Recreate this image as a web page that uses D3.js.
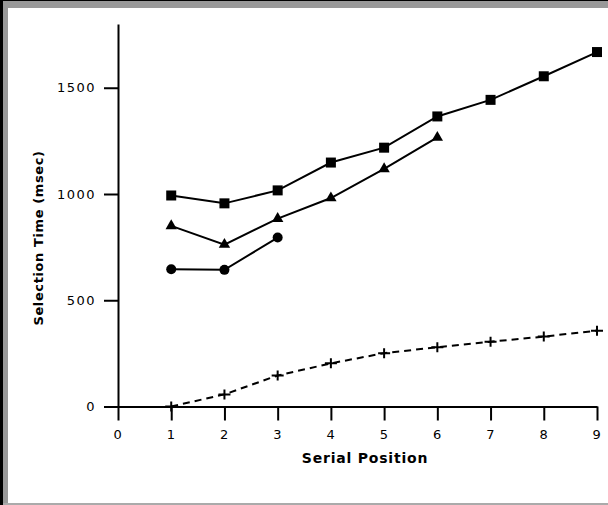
<!DOCTYPE html>
<html><head><meta charset="utf-8">
<script src="https://cdn.jsdelivr.net/npm/d3@7"></script>
<style>
html,body{margin:0;padding:0;background:#fff;}
svg{display:block;}
</style></head>
<body>
<script>
const positions = [0,1,2,3,4,5,6,7,8,9];
const yTicks = [0,500,1000,1500];
const squareX = [1,2,3,4,5,6,7,8,9];
const squareY = [993,956,1017,1148,1218,1365,1443,1554,1668];
const triangleX = [1,2,3,4,5,6];
const triangleY = [850,762,884,981,1118,1266];
const circleX = [1,2,3];
const circleY = [646,643,795];
const plusX = [1,2,3,4,5,6,7,8,9];
const plusY = [0,57,146,203,251,279,305,329,357];
const xTitle = "Serial Position";
const yTitle = "Selection Time (msec)";

const W = 608, H = 505;
const svg = d3.select("body").append("svg").attr("width", W).attr("height", H);

// frame
svg.append("rect").attr("x",0).attr("y",0).attr("width",W).attr("height",H).attr("fill","#fff");
svg.append("rect").attr("x",0).attr("y",0).attr("width",W).attr("height",8).attr("fill","#999");
svg.append("rect").attr("x",0).attr("y",0).attr("width",8).attr("height",H).attr("fill","#999");
svg.append("rect").attr("x",0).attr("y",0).attr("width",W).attr("height",1).attr("fill","#000");
svg.append("rect").attr("x",0).attr("y",0).attr("width",3).attr("height",H).attr("fill","#000");
svg.append("rect").attr("x",3).attr("y",503).attr("width",W-3).attr("height",2).attr("fill","#aaa");

const x = d3.scaleLinear().domain([0,9]).range([118,597]);
const y = d3.scaleLinear().domain([0,1800]).range([406.5,24]);

const font = "'DejaVu Sans', sans-serif";

const xa = svg.append("g").attr("transform",`translate(0,${y(0)})`)
  .call(d3.axisBottom(x).tickValues(positions).tickSize(14).tickSizeOuter(0).tickFormat(d3.format("d")));
const ya = svg.append("g").attr("transform",`translate(${x(0)},0)`)
  .call(d3.axisLeft(y).tickValues(yTicks).tickSize(14).tickSizeOuter(0).tickFormat(d3.format("d")));
[xa,ya].forEach(a=>{
  a.selectAll("path.domain").attr("stroke","#000").attr("stroke-width",2);
  a.selectAll(".tick line").attr("stroke","#000").attr("stroke-width",2);
  a.selectAll(".tick text").attr("fill","#000").attr("font-family",font).attr("font-size",13).attr("letter-spacing",1.5);
});
xa.selectAll(".tick text").attr("y",23);
ya.selectAll(".tick text").attr("x",-22);

svg.append("text").attr("x",365).attr("y",463).attr("text-anchor","middle")
  .attr("font-family",font).attr("font-weight","bold").attr("font-size",14).attr("letter-spacing",0.8).text(xTitle);
svg.append("text").attr("transform","translate(43,238) rotate(-90)").attr("text-anchor","middle")
  .attr("font-family",font).attr("font-weight","bold").attr("font-size",13).attr("letter-spacing",0.6).text(yTitle);

const line = d3.line().x(d=>x(d[0])).y(d=>y(d[1]));
function series(xs, ys){ return xs.map((v,i)=>[v, ys[i]]); }

const sq = series(squareX, squareY), tr = series(triangleX, triangleY), ci = series(circleX, circleY), pl = series(plusX, plusY);

[sq,tr,ci].forEach(s=>{
  svg.append("path").attr("d",line(s)).attr("fill","none").attr("stroke","#000").attr("stroke-width",2);
});
svg.append("path").attr("d",line(pl)).attr("fill","none").attr("stroke","#000").attr("stroke-width",2).attr("stroke-dasharray","7,5");

svg.selectAll("rect.sq").data(sq).enter().append("rect").attr("class","sq")
  .attr("x",d=>x(d[0])-5).attr("y",d=>y(d[1])-5).attr("width",10).attr("height",10).attr("fill","#000");
svg.selectAll("path.tr").data(tr).enter().append("path").attr("class","tr")
  .attr("transform",d=>`translate(${x(d[0])},${y(d[1])})`)
  .attr("d",d3.symbol().type(d3.symbolTriangle).size(56)).attr("fill","#000");
svg.selectAll("circle.ci").data(ci).enter().append("circle").attr("class","ci")
  .attr("cx",d=>x(d[0])).attr("cy",d=>y(d[1])).attr("r",5).attr("fill","#000");
svg.selectAll("path.pl").data(pl).enter().append("path").attr("class","pl")
  .attr("transform",d=>`translate(${x(d[0])},${y(d[1])})`)
  .attr("d","M-6,0H6M0,-5V5").attr("stroke","#000").attr("stroke-width",2);
</script>
</body></html>
